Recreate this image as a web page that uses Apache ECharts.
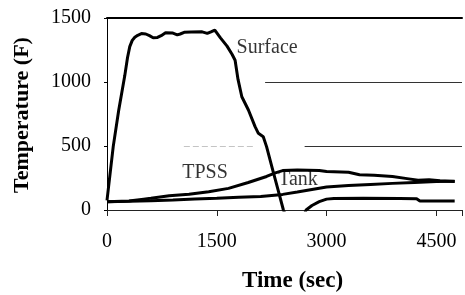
<!DOCTYPE html>
<html>
<head>
<meta charset="utf-8">
<script src="https://cdn.jsdelivr.net/npm/echarts@6/dist/echarts.min.js"></script>
<style>
  html, body { margin: 0; padding: 0; background: #ffffff; }
  #chart { width: 465px; height: 295px; }
</style>
</head>
<body>
<div id="chart"></div>
<script>
  // time (sec) / temperature (F) pairs
  var surfaceTime = [0, 85, 160, 243, 280, 311, 345, 380, 420, 470, 530, 580, 630, 690, 740, 800, 900, 960, 1000, 1054, 1150, 1300, 1370, 1420, 1473, 1500, 1550, 1640, 1710, 1750, 1790, 1842, 1932, 2023, 2068, 2135, 2180, 2270, 2338, 2410, 2500, 2600, 2680, 2720, 2800, 2900, 3000, 3100, 3500, 4000, 4230, 4275, 4500, 4750];
  var surfaceTemp = [75, 495, 780, 1050, 1190, 1276, 1325, 1350, 1365, 1378, 1375, 1362, 1346, 1348, 1362, 1385, 1382, 1368, 1375, 1388, 1390, 1392, 1380, 1392, 1406, 1395, 1345, 1280, 1215, 1170, 1020, 885, 781, 651, 599, 573, 495, 299, 156, 0, -120, -150, -60, 0, 35, 65, 85, 90, 91, 90, 88, 70, 70, 70];

  var tpssTime = [0, 300, 500, 600, 850, 1120, 1390, 1660, 1930, 2180, 2300, 2400, 2600, 2900, 3000, 3300, 3450, 3650, 3900, 4100, 4250, 4400, 4550, 4750];
  var tpssTemp = [65, 70, 85, 91, 112, 123, 143, 169, 215, 262, 290, 308, 312, 308, 300, 295, 275, 272, 262, 245, 232, 236, 228, 222];

  var tankTime = [0, 300, 600, 900, 1200, 1500, 1800, 2100, 2400, 2600, 2800, 3000, 3300, 3600, 3900, 4200, 4500, 4750];
  var tankTemp = [65, 68, 72, 78, 85, 92, 100, 106, 122, 140, 160, 180, 192, 200, 208, 215, 222, 225];

  var xTicks = [0, 1500, 3000, 4500];
  var yTicks = [0, 500, 1000, 1500];

  // curve labels: text, time, temperature
  var labelText = ["Surface", "TPSS", "Tank"];
  var labelTime = [1770, 1027, 2338];
  var labelTemp = [1266, 293, 234];

  // partial grid lines left in the picture: from time, to time, temperature
  var gridFrom = [2160, 2700];
  var gridTo = [4850, 4850];
  var gridLevel = [1000, 500];
  // faded piece of the 500 line
  var fadedFrom = [1050];
  var fadedTo = [2000];
  var fadedLevel = [500];

  function pairs(xs, ys) {
    return xs.map(function (x, i) {
      return [x, ys[i]];
    });
  }

  function segments(from, to, level) {
    return level.map(function (v, i) {
      return [{ coord: [from[i], v] }, { coord: [to[i], v] }];
    });
  }

  var serif = "'Liberation Serif', 'DejaVu Serif', serif";
  var chart = echarts.init(document.getElementById("chart"), null, { renderer: "canvas" });

  var lineStyle = { color: "#000", width: 3 };

  chart.setOption({
    animation: false,
    backgroundColor: "#ffffff",
    grid: { left: 107, top: 18, width: 359, height: 192 },
    xAxis: [
      {
        type: "value",
        min: 0,
        max: 4850,
        interval: 1500,
        splitLine: { show: false },
        axisLine: { lineStyle: { color: "#222", width: 1 } },
        axisTick: { show: true, length: 6, lineStyle: { color: "#222" } },
        axisLabel: {
          margin: 22,
          color: "#000",
          fontFamily: serif,
          fontSize: 20,
          formatter: function (v) {
            return xTicks.indexOf(v) >= 0 ? String(v) : "";
          }
        }
      },
      {
        type: "value",
        position: "top",
        min: 0,
        max: 4850,
        splitLine: { show: false },
        axisLine: { lineStyle: { color: "#000", width: 2 } },
        axisTick: { show: false },
        axisLabel: { show: false }
      }
    ],
    yAxis: {
      type: "value",
      min: 0,
      max: 1500,
      interval: 500,
      splitLine: { show: false },
      axisLine: { show: true, lineStyle: { color: "#000", width: 1 } },
      axisTick: { show: true, length: 3, lineStyle: { color: "#000" } },
      axisLabel: {
        margin: 16,
        color: "#000",
        fontFamily: serif,
        fontSize: 20,
        formatter: function (v) {
          return yTicks.indexOf(v) >= 0 ? String(v) : "";
        }
      }
    },
    graphic: [
      {
        type: "text",
        left: 294 - 52,
        top: 270,
        style: { text: "Time (sec)", fill: "#000", font: "bold 23px " + serif }
      },
      {
        type: "text",
        x: 22,
        y: 115,
        rotation: Math.PI / 2,
        style: {
          text: "Temperature (F)",
          fill: "#000",
          font: "bold 22px " + serif,
          align: "center",
          verticalAlign: "middle"
        }
      }
    ],
    series: [
      {
        name: "grid",
        type: "line",
        data: [],
        markLine: {
          silent: true,
          symbol: ["none", "none"],
          label: { show: false },
          lineStyle: { color: "#333", width: 1, type: "solid" },
          data: segments(gridFrom, gridTo, gridLevel)
        }
      },
      {
        name: "faded",
        type: "line",
        data: [],
        markLine: {
          silent: true,
          symbol: ["none", "none"],
          label: { show: false },
          lineStyle: { color: "#c4c4c4", width: 1, type: [6, 3] },
          data: segments(fadedFrom, fadedTo, fadedLevel)
        }
      },
      {
        name: "Surface",
        type: "line",
        data: pairs(surfaceTime, surfaceTemp),
        showSymbol: false,
        clip: true,
        lineStyle: lineStyle
      },
      {
        name: "TPSS",
        type: "line",
        data: pairs(tpssTime, tpssTemp),
        showSymbol: false,
        lineStyle: lineStyle
      },
      {
        name: "Tank",
        type: "line",
        data: pairs(tankTime, tankTemp),
        showSymbol: false,
        lineStyle: lineStyle
      },
      {
        name: "labels",
        type: "scatter",
        symbolSize: 0,
        data: labelText.map(function (t, i) {
          return { name: t, value: [labelTime[i], labelTemp[i]] };
        }),
        label: {
          show: true,
          position: "right",
          distance: 0,
          formatter: "{b}",
          color: "#000",
          fontFamily: serif,
          fontSize: 20
        },
        z: 10
      }
    ]
  });
</script>
</body>
</html>
